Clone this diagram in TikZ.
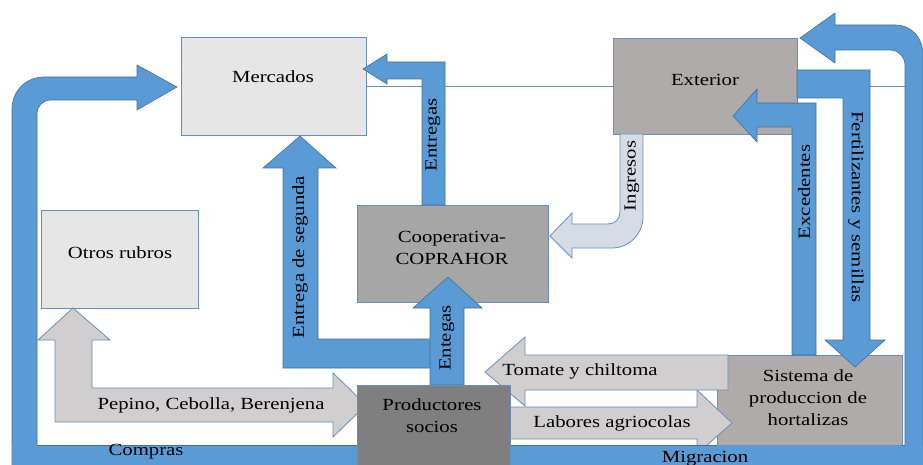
\documentclass[tikz,border=0pt]{standalone}
\usepackage{fontspec}
\setmainfont[FakeStretch=1.22]{Liberation Serif}
\definecolor{bluef}{HTML}{5B9BD5}
\definecolor{bluel}{HTML}{41719C}
\definecolor{boxl}{HTML}{6A8EBB}
\definecolor{lightbox}{HTML}{E6E6E6}
\definecolor{extbox}{HTML}{AFABAB}
\definecolor{coopbox}{HTML}{A6A6A6}
\definecolor{prodbox}{HTML}{7F7F7F}
\definecolor{grayarr}{HTML}{D0CECE}
\definecolor{ingarr}{HTML}{D6DCE5}
\tikzset{
  blk/.style={draw=boxl, line width=0.9pt, minimum width=#1},
  barrow/.style={fill=bluef, draw=bluel, line width=0.6pt},
  garrow/.style={fill=grayarr, draw=boxl, line width=0.8pt},
  iarrow/.style={fill=ingarr, draw=boxl, line width=0.8pt},
  lbl/.style={font=\fontsize{17}{22}\selectfont, text=black, inner sep=0pt, align=center},
  thinline/.style={draw=boxl, line width=0.9pt}
}
\begin{document}
\begin{tikzpicture}[x=1pt,y=-1pt]
\useasboundingbox (0,0) rectangle (923,465);
% thin lines
\coordinate (l1) at (366,86);
\coordinate (l2) at (613,86);
\coordinate (l3) at (797,86);
\coordinate (l4) at (905,86);
\draw[thinline] (l1) -- (l2);
\draw[thinline] (l3) -- (l4);
% Compras loop (left)
\path[barrow] (12,465) -- (12,109) .. controls (12,91) and (26,77) .. (44,77)
  -- (137,77) -- (137,65) -- (177,87) -- (137,110) -- (137,100) -- (51,100)
  .. controls (43,100) and (37,106) .. (37,114) -- (37,445) -- (37,465) -- cycle;
% Migracion loop (right)
\path[barrow] (905,465) -- (905,65) .. controls (905,57) and (898,50) .. (890,50)
  -- (835,50) -- (835,63) -- (800,38) -- (835,13) -- (835,25) -- (895,25)
  .. controls (912,25) and (923,38) .. (923,55) -- (923,465) -- cycle;
% boxes
\node[blk=185pt, minimum height=98pt, fill=lightbox] (merc) at (273.5,86) {};
\node[blk=184pt, minimum height=96pt, fill=extbox] (ext) at (705,86) {};
\node[blk=157pt, minimum height=98pt, fill=lightbox] (otros) at (119.5,259) {};
\node[blk=191pt, minimum height=97pt, fill=coopbox] (coop) at (452.5,253.5) {};
\node[blk=185pt, minimum height=90pt, fill=extbox] (sist) at (809.5,400) {};
% Entrega de segunda
\path[barrow] (436,339) -- (318,339) -- (318,168) -- (336,168) -- (300,136)
  -- (263,168) -- (283,168) -- (283,368) -- (436,368) -- cycle;
% Entegas
\path[barrow] (430,385) -- (430,308) -- (413,308) -- (448,277) -- (482,308)
  -- (464,308) -- (464,385) -- cycle;
% Entregas
\path[barrow] (422,205) -- (422,79) -- (387,79) -- (387,84) -- (363,69)
  -- (387,54) -- (387,62) -- (445,62) -- (445,205) -- cycle;
% Ingresos
\path[iarrow] (620,134) -- (620,212) .. controls (620,219) and (615,224) .. (608,224)
  -- (572,224) -- (572,213) -- (550,236) -- (572,258) -- (572,248) -- (612,248)
  .. controls (629,248) and (643,234) .. (643,217) -- (643,134) -- cycle;
% Excedentes
\path[barrow] (792,355) -- (792,127) -- (757,127) -- (757,142) -- (733,116)
  -- (757,89) -- (757,103) -- (816,103) -- (816,355) -- cycle;
% Fertilizantes y semillas
\path[barrow] (797,70) -- (870,70) -- (870,340) -- (885,340) -- (855,367)
  -- (825,340) -- (843,340) -- (843,98) -- (797,98) -- cycle;
% Pepino, Cebolla, Berenjena
\path[garrow] (366,405) -- (333,437) -- (333,422) -- (55,422) -- (55,340)
  -- (38,340) -- (73,308) -- (110,340) -- (92,340) -- (92,388) -- (333,388)
  -- (333,373) -- cycle;
% Labores agriocolas
\path[garrow] (510,407) -- (697,407) -- (697,390) -- (732,423) -- (697,454)
  -- (697,439) -- (510,439) -- cycle;
% Tomate y chiltoma
\path[garrow] (728,355) -- (525,355) -- (525,337) -- (485,372) -- (525,406)
  -- (525,390) -- (728,390) -- cycle;
% bottom band (Compras / Migracion)
\path[fill=bluef] (12.3,445) -- (922.7,445) -- (922.7,465) -- (12.3,465) -- cycle;
\draw[bluel, line width=0.6pt] (37,445) -- (717,445);
\draw[bluel, line width=0.6pt] (902,445) -- (905,445);
\node[blk=153pt, minimum height=80pt, fill=prodbox] (prod) at (433.5,425) {};
% box texts
\node[lbl] (tmerc) at (273,77) {Mercados};
\node[lbl] (text) at (705,80) {Exterior};
\node[lbl] (totros) at (120,253) {Otros rubros};
\node[lbl] (tcoop) at (452,248) {Cooperativa-\\COPRAHOR};
\node[lbl] (tprod) at (432,416) {Productores\\socios};
\node[lbl] (tsist) at (808,398) {Sistema de\\produccion de\\hortalizas};
% arrow labels
\node[lbl] (tcomp) at (146,452) {Compras};
\node[lbl] (tmigr) at (705,459) {Migracion};
\node[lbl] (tpep) at (211,405) {Pepino, Cebolla, Berenjena};
\node[lbl] (ttom) at (580,371) {Tomate y chiltoma};
\node[lbl] (tlab) at (612,423) {Labores agriocolas};
\node[lbl, rotate=90] (tseg) at (300,257) {Entrega de segunda};
\node[lbl, rotate=90] (tenteg) at (447,338) {Entegas};
\node[lbl, rotate=90] (tentreg) at (433,135) {Entregas};
\node[lbl, rotate=90] (ting) at (632,176) {Ingresos};
\node[lbl, rotate=90] (texc) at (804,192) {Excedentes};
\node[lbl, rotate=-90] (tfert) at (856,207) {Fertilizantes y semillas};
\end{tikzpicture}
\end{document}
